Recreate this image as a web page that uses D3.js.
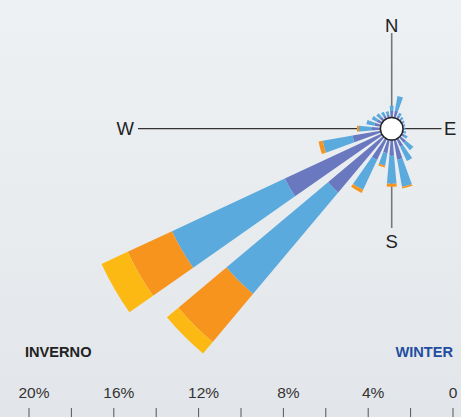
<!DOCTYPE html>
<html>
<head>
<meta charset="utf-8">
<script src="https://cdn.jsdelivr.net/npm/d3@7"></script>
<style>
  html, body { margin: 0; padding: 0; }
  body { width: 461px; height: 417px; overflow: hidden; }
  svg { display: block; font-family: "Liberation Sans", Arial, sans-serif; }
</style>
</head>
<body>
<svg id="chart" width="461" height="417"></svg>
<script>
// Wind direction bearings (degrees, clockwise from north)
const directions = [0, 15, 30, 45, 60, 75, 90, 105, 120, 135, 150, 165,
                    180, 195, 210, 225, 240, 255, 270, 285, 300, 315, 330, 345];
// Frequency (%) per speed class, stacked outward
const classDark   = [0.30, 0.33, 0.15, 0.10, 0.08, 0.06, 0.06, 0.08, 0.15, 0.35, 0.40, 0.95,
                     0.74, 0.64, 1.10, 3.39, 5.03, 1.34, 0.41, 0.30, 0.25, 0.20, 0.15, 0.15];
const classLight  = [0.25, 0.70, 0.15, 0.10, 0.07, 0.06, 0.05, 0.08, 0.15, 0.45, 0.75, 1.30,
                     1.32, 0.59, 1.55, 6.26, 5.87, 1.43, 0.60, 0.38, 0.26, 0.22, 0.20, 0.15];
const classOrange = [0, 0, 0, 0, 0, 0, 0, 0, 0, 0, 0, 0.08,
                     0.14, 0.09, 0.16, 2.95, 2.31, 0.20, 0.10, 0, 0, 0, 0, 0];
const classYellow = [0, 0, 0, 0, 0, 0, 0, 0, 0, 0, 0, 0,
                     0, 0, 0, 0.71, 1.36, 0, 0, 0, 0, 0, 0, 0];
const seriesNames = ["dark", "light", "orange", "yellow"];
const seriesColors = ["#6a79bf", "#5aaade", "#f7941e", "#fdb913"];
const compassLabels = ["N", "E", "S", "W"];
const scaleTicks = [20, 18, 16, 14, 12, 10, 8, 6, 4, 2, 0];
const scaleLabels = [20, 16, 12, 8, 4, 0];
const seasonLeft = "INVERNO";
const seasonRight = "WINTER";

const svg = d3.select("#chart");
const W = 461, H = 417;

// background
const defs = svg.append("defs");
const grad = defs.append("linearGradient").attr("id", "bg").attr("x1", 0).attr("y1", 0).attr("x2", 0).attr("y2", 1);
grad.append("stop").attr("offset", "0%").attr("stop-color", "#eef1f4");
grad.append("stop").attr("offset", "60%").attr("stop-color", "#e8ebee");
grad.append("stop").attr("offset", "100%").attr("stop-color", "#e2e5e9");
svg.append("rect").attr("width", W).attr("height", H).attr("fill", "url(#bg)");

const cx = 391.7, cy = 128.7;
const innerR = 11.3;
const pxPerPct = 21.2;
const rScale = d3.scaleLinear().domain([0, 15]).range([innerR, innerR + 15 * pxPerPct]);

// compass lines
const g = svg.append("g");
g.append("line").attr("x1", cx).attr("x2", cx).attr("y1", 33).attr("y2", cy)
  .attr("stroke", "#777").attr("stroke-width", 1.6);
g.append("line").attr("x1", cx).attr("x2", cx).attr("y1", cy).attr("y2", 228)
  .attr("stroke", "#777").attr("stroke-width", 1.6);
g.append("line").attr("x1", 138).attr("x2", cx).attr("y1", cy).attr("y2", cy)
  .attr("stroke", "#333").attr("stroke-width", 1.2);
g.append("line").attr("x1", cx).attr("x2", 441.5).attr("y1", cy).attr("y2", cy)
  .attr("stroke", "#333").attr("stroke-width", 1.2);

const labelStyle = sel => sel.attr("font-size", 18.5).attr("fill", "#222");
g.append("text").text(compassLabels[0]).attr("x", cx).attr("y", 32).attr("text-anchor", "middle").call(labelStyle);
g.append("text").text(compassLabels[1]).attr("x", 444).attr("y", 135).attr("text-anchor", "start").call(labelStyle);
g.append("text").text(compassLabels[2]).attr("x", cx).attr("y", 248).attr("text-anchor", "middle").call(labelStyle);
g.append("text").text(compassLabels[3]).attr("x", 134).attr("y", 135).attr("text-anchor", "end").call(labelStyle);

// stacked data
const seriesArrays = [classDark, classLight, classOrange, classYellow];
const rows = directions.map((d, i) => {
  const o = { dir: d };
  seriesNames.forEach((s, k) => o[s] = seriesArrays[k][i]);
  return o;
});
const stack = d3.stack().keys(seriesNames)(rows);

const halfWidth = 5 * Math.PI / 180;
const arc = d3.arc();
const rose = svg.append("g").attr("transform", `translate(${cx},${cy})`);
stack.forEach((layer, k) => {
  rose.append("g").attr("fill", seriesColors[k])
    .selectAll("path")
    .data(layer.filter(d => d[1] - d[0] > 0))
    .join("path")
    .attr("d", d => {
      const a = d.data.dir * Math.PI / 180;
      return arc({
        innerRadius: rScale(d[0]),
        outerRadius: rScale(d[1]),
        startAngle: a - halfWidth,
        endAngle: a + halfWidth
      });
    });
});

rose.append("circle").attr("r", innerR).attr("fill", "#fff").attr("stroke", "#222").attr("stroke-width", 1.5);

// bottom labels
svg.append("text").text(seasonLeft).attr("x", 25).attr("y", 357)
  .attr("font-size", 14.6).attr("font-weight", "bold").attr("fill", "#222");
svg.append("text").text(seasonRight).attr("x", 453).attr("y", 357).attr("text-anchor", "end")
  .attr("font-size", 14.6).attr("font-weight", "bold").attr("fill", "#1f4ea0");

// scale axis
const xScale = d3.scaleLinear().domain([20, 0]).range([29, 453]);
const axis = svg.append("g");
axis.selectAll("line").data(scaleTicks).join("line")
  .attr("x1", d => xScale(d)).attr("x2", d => xScale(d))
  .attr("y1", 408).attr("y2", 417)
  .attr("stroke", "#555").attr("stroke-width", 1);
axis.selectAll("text").data(scaleLabels).join("text")
  .text(d => d === 0 ? "0" : d + "%")
  .attr("x", d => d === 0 ? xScale(d) : xScale(d) + 5)
  .attr("y", 398)
  .attr("text-anchor", "middle")
  .attr("font-size", 15.5).attr("fill", "#333");
</script>
</body>
</html>
